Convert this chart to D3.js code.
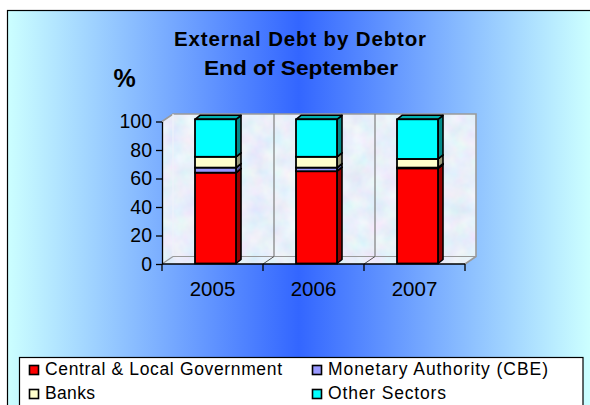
<!DOCTYPE html>
<html>
<head>
<meta charset="utf-8">
<script src="https://cdn.jsdelivr.net/npm/d3@7"></script>
<style>
  html, body { margin: 0; padding: 0; background: #ffffff; }
  svg { display: block; font-family: "Liberation Sans", Arial, sans-serif; }
</style>
</head>
<body>
<svg id="chart" width="590" height="405"></svg>
<script>
// External debt by debtor, share of total (%), end of September
const categories = ["2005", "2006", "2007"];
const seriesNames = ["Central & Local Government", "Monetary Authority (CBE)", "Banks", "Other Sectors"];
const centralLocalGov = [63, 64, 66];
const monetaryAuthority = [3.5, 2.5, 0.5];
const banks = [7.5, 7.5, 6];
const otherSectors = [26, 26, 27.5];
const yTicks = [0, 20, 40, 60, 80, 100];

const fronts = ["#ff0000", "#9999ff", "#ffffcc", "#00ffff"];
const sides  = ["#990000", "#5c5c99", "#99997a", "#008b8b"];
const tops   = ["#cc0000", "#7a7acc", "#cccca3", "#00b3b3"];

const svg = d3.select("#chart");
const defs = svg.append("defs");

// background: light turquoise at the edges, blue at the centre
const bg = defs.append("linearGradient").attr("id", "bg")
  .attr("gradientUnits", "userSpaceOnUse").attr("x1", 7).attr("x2", 590).attr("y1", 0).attr("y2", 0);
bg.append("stop").attr("offset", 0).attr("stop-color", "#ccffff");
bg.append("stop").attr("offset", 0.5).attr("stop-color", "#3366ff");
bg.append("stop").attr("offset", 1).attr("stop-color", "#ccffff");

// mottled paper texture for the walls
const tex = defs.append("filter").attr("id", "tex")
  .attr("x", 0).attr("y", 0).attr("width", 1).attr("height", 1);
tex.append("feTurbulence").attr("type", "fractalNoise").attr("baseFrequency", 0.06)
  .attr("numOctaves", 3).attr("seed", 7).attr("result", "noise");
tex.append("feColorMatrix").attr("in", "noise").attr("type", "matrix")
  .attr("values", "0.30 0 0 0 0.66  0 0.22 0 0 0.76  0 0 0.12 0 0.89  0 0 0 0 1")
  .attr("result", "col");
tex.append("feComposite").attr("in", "col").attr("in2", "SourceGraphic").attr("operator", "in");

svg.append("rect").attr("x", 7.5).attr("y", 10.5).attr("width", 600).attr("height", 420)
  .attr("fill", "url(#bg)").attr("stroke", "#000").attr("stroke-width", 1.2);

// plot geometry
const x = d3.scaleBand().domain(categories).range([162, 465]).paddingInner(0).paddingOuter(0);
const yAxisScale = d3.scaleLinear().domain([0, 100]).range([264, 121.5]);
const yBar = d3.scaleLinear().domain([0, 100]).range([263.5, 119.3]);
const dx = 11, dy = -7.5;          // wall depth offset
const bdx = 5, bdy = -4;           // bar depth offset
const barW = 41;

const x0 = x.range()[0], x1 = x.range()[1];
const yb = yAxisScale(0), yt = yAxisScale(100);

const walls = svg.append("g");
// back wall
walls.append("polygon")
  .attr("points", [[x0 + dx, yt + dy], [x1 + dx, yt + dy], [x1 + dx, yb + dy], [x0 + dx, yb + dy]].join(" "))
  .attr("fill", "#dbe4f6").attr("filter", "url(#tex)");
// side wall
walls.append("polygon")
  .attr("points", [[x0, yt], [x0 + dx, yt + dy], [x0 + dx, yb + dy], [x0, yb]].join(" "))
  .attr("fill", "#dbe4f6").attr("filter", "url(#tex)");
// floor
walls.append("polygon")
  .attr("points", [[x0, yb], [x1, yb], [x1 + dx, yb + dy], [x0 + dx, yb + dy]].join(" "))
  .attr("fill", "#dfe8f8").attr("filter", "url(#tex)");

const edge = "#9a9a9a";
walls.append("polyline")
  .attr("points", [[x0, yt], [x0 + dx, yt + dy], [x1 + dx, yt + dy], [x1 + dx, yb + dy], [x1, yb]].join(" "))
  .attr("fill", "none").attr("stroke", edge).attr("stroke-width", 1.6);
walls.append("line").attr("x1", x0 + dx).attr("x2", x0 + dx).attr("y1", yt + dy).attr("y2", yb + dy)
  .attr("stroke", "#eef2fa").attr("stroke-width", 1.2);
walls.append("line").attr("x1", x0 + dx).attr("x2", x1 + dx).attr("y1", yb + dy).attr("y2", yb + dy)
  .attr("stroke", edge).attr("stroke-width", 1.2);
walls.append("line").attr("x1", x0).attr("x2", x0 + dx).attr("y1", yb).attr("y2", yb + dy)
  .attr("stroke", edge).attr("stroke-width", 1.2);

// category separators on back wall and floor
const inner = categories.slice(1).map(c => x(c));
walls.selectAll("line.sep").data(inner).join("line").attr("class", "sep")
  .attr("x1", d => d + dx).attr("x2", d => d + dx).attr("y1", yt + dy).attr("y2", yb + dy)
  .attr("stroke", "#7f7f7f").attr("stroke-width", 1.2);
walls.selectAll("line.fsep").data(inner).join("line").attr("class", "fsep")
  .attr("x1", d => d).attr("x2", d => d + dx).attr("y1", yb).attr("y2", yb + dy)
  .attr("stroke", "#555").attr("stroke-width", 1);

// stacked data
const rows = categories.map((c, i) => ({
  cat: c,
  vals: [centralLocalGov[i], monetaryAuthority[i], banks[i], otherSectors[i]]
}));
const table = rows.map(r => {
  const o = { cat: r.cat };
  seriesNames.forEach((s, k) => o[s] = r.vals[k]);
  return o;
});
const stacked = d3.stack().keys(seriesNames)(table);

const barsG = svg.append("g");
categories.forEach((c, i) => {
  const bx = x(c) + (x.bandwidth() - barW) / 2 + 3;
  const g = barsG.append("g");
  stacked.forEach((layer, k) => {
    const lo = yBar(layer[i][0]), hi = yBar(layer[i][1]);
    // side face
    g.append("polygon")
      .attr("points", [[bx + barW, lo], [bx + barW + bdx, lo + bdy], [bx + barW + bdx, hi + bdy], [bx + barW, hi]].join(" "))
      .attr("fill", sides[k]).attr("stroke", "#000").attr("stroke-width", 1.6).attr("stroke-linejoin", "round");
    // top face
    g.append("polygon")
      .attr("points", [[bx, hi], [bx + barW, hi], [bx + barW + bdx, hi + bdy], [bx + bdx, hi + bdy]].join(" "))
      .attr("fill", tops[k]).attr("stroke", "#000").attr("stroke-width", 1.6).attr("stroke-linejoin", "round");
    // front face
    g.append("rect").attr("x", bx).attr("y", hi).attr("width", barW).attr("height", lo - hi)
      .attr("fill", fronts[k]).attr("stroke", "#000").attr("stroke-width", 1.8);
  });
});

// y axis
const yAxis = svg.append("g").attr("transform", `translate(${x0},0)`)
  .call(d3.axisLeft(yAxisScale).tickValues(yTicks).tickSize(6).tickSizeOuter(0).tickPadding(4));
yAxis.select(".domain").attr("stroke", "#000").attr("stroke-width", 1.3);
yAxis.selectAll(".tick line").attr("stroke", "#000").attr("stroke-width", 1.3);
yAxis.selectAll(".tick text").attr("font-size", 19.5).attr("fill", "#000")
  .attr("font-family", "Liberation Sans, Arial, sans-serif");

// x axis
const xg = svg.append("g");
xg.append("line").attr("x1", x0).attr("x2", x1).attr("y1", yb).attr("y2", yb)
  .attr("stroke", "#000").attr("stroke-width", 1.3);
const edges = categories.map(c => x(c)).concat([x1]);
xg.selectAll("line.tk").data(edges).join("line").attr("class", "tk")
  .attr("x1", d => d).attr("x2", d => d).attr("y1", yb).attr("y2", yb + 7)
  .attr("stroke", "#000").attr("stroke-width", 1.3);
xg.selectAll("text").data(categories).join("text")
  .attr("x", d => x(d) + x.bandwidth() / 2).attr("y", 296)
  .attr("text-anchor", "middle").attr("font-size", 20.5).attr("fill", "#000").text(d => d);

// titles
svg.append("text").attr("x", 174).attr("y", 46).attr("font-size", 20.5).attr("font-weight", "bold")
  .attr("textLength", 252).attr("lengthAdjust", "spacing").text("External Debt by Debtor");
svg.append("text").attr("x", 204).attr("y", 75).attr("font-size", 20.5).attr("font-weight", "bold")
  .attr("textLength", 194).attr("lengthAdjust", "spacingAndGlyphs").text("End of September");
svg.append("text").attr("x", 124.5).attr("y", 87).attr("text-anchor", "middle")
  .attr("font-size", 25).attr("font-weight", "bold").text("%");

// legend
const lg = svg.append("g");
lg.append("rect").attr("x", 19.5).attr("y", 357.5).attr("width", 563.5).attr("height", 70)
  .attr("fill", "#fff").attr("stroke", "#000").attr("stroke-width", 1.2);
const legendPos = [
  { sx: 29, base: 374.5, len: 237 },
  { sx: 312, base: 374.5, len: 220 },
  { sx: 29, base: 398.5, len: 50 },
  { sx: 312, base: 398.5, len: 118 }
];
seriesNames.forEach((s, k) => {
  const p = legendPos[k];
  lg.append("rect").attr("x", p.sx + 0.5).attr("y", p.base - 9).attr("width", 9).attr("height", 9)
    .attr("fill", fronts[k]).attr("stroke", "#000").attr("stroke-width", 1.6);
  lg.append("text").attr("x", p.sx + 16).attr("y", p.base).attr("font-size", 17.5).attr("fill", "#000")
    .attr("textLength", p.len).attr("lengthAdjust", "spacing").text(s);
});
</script>
</body>
</html>
